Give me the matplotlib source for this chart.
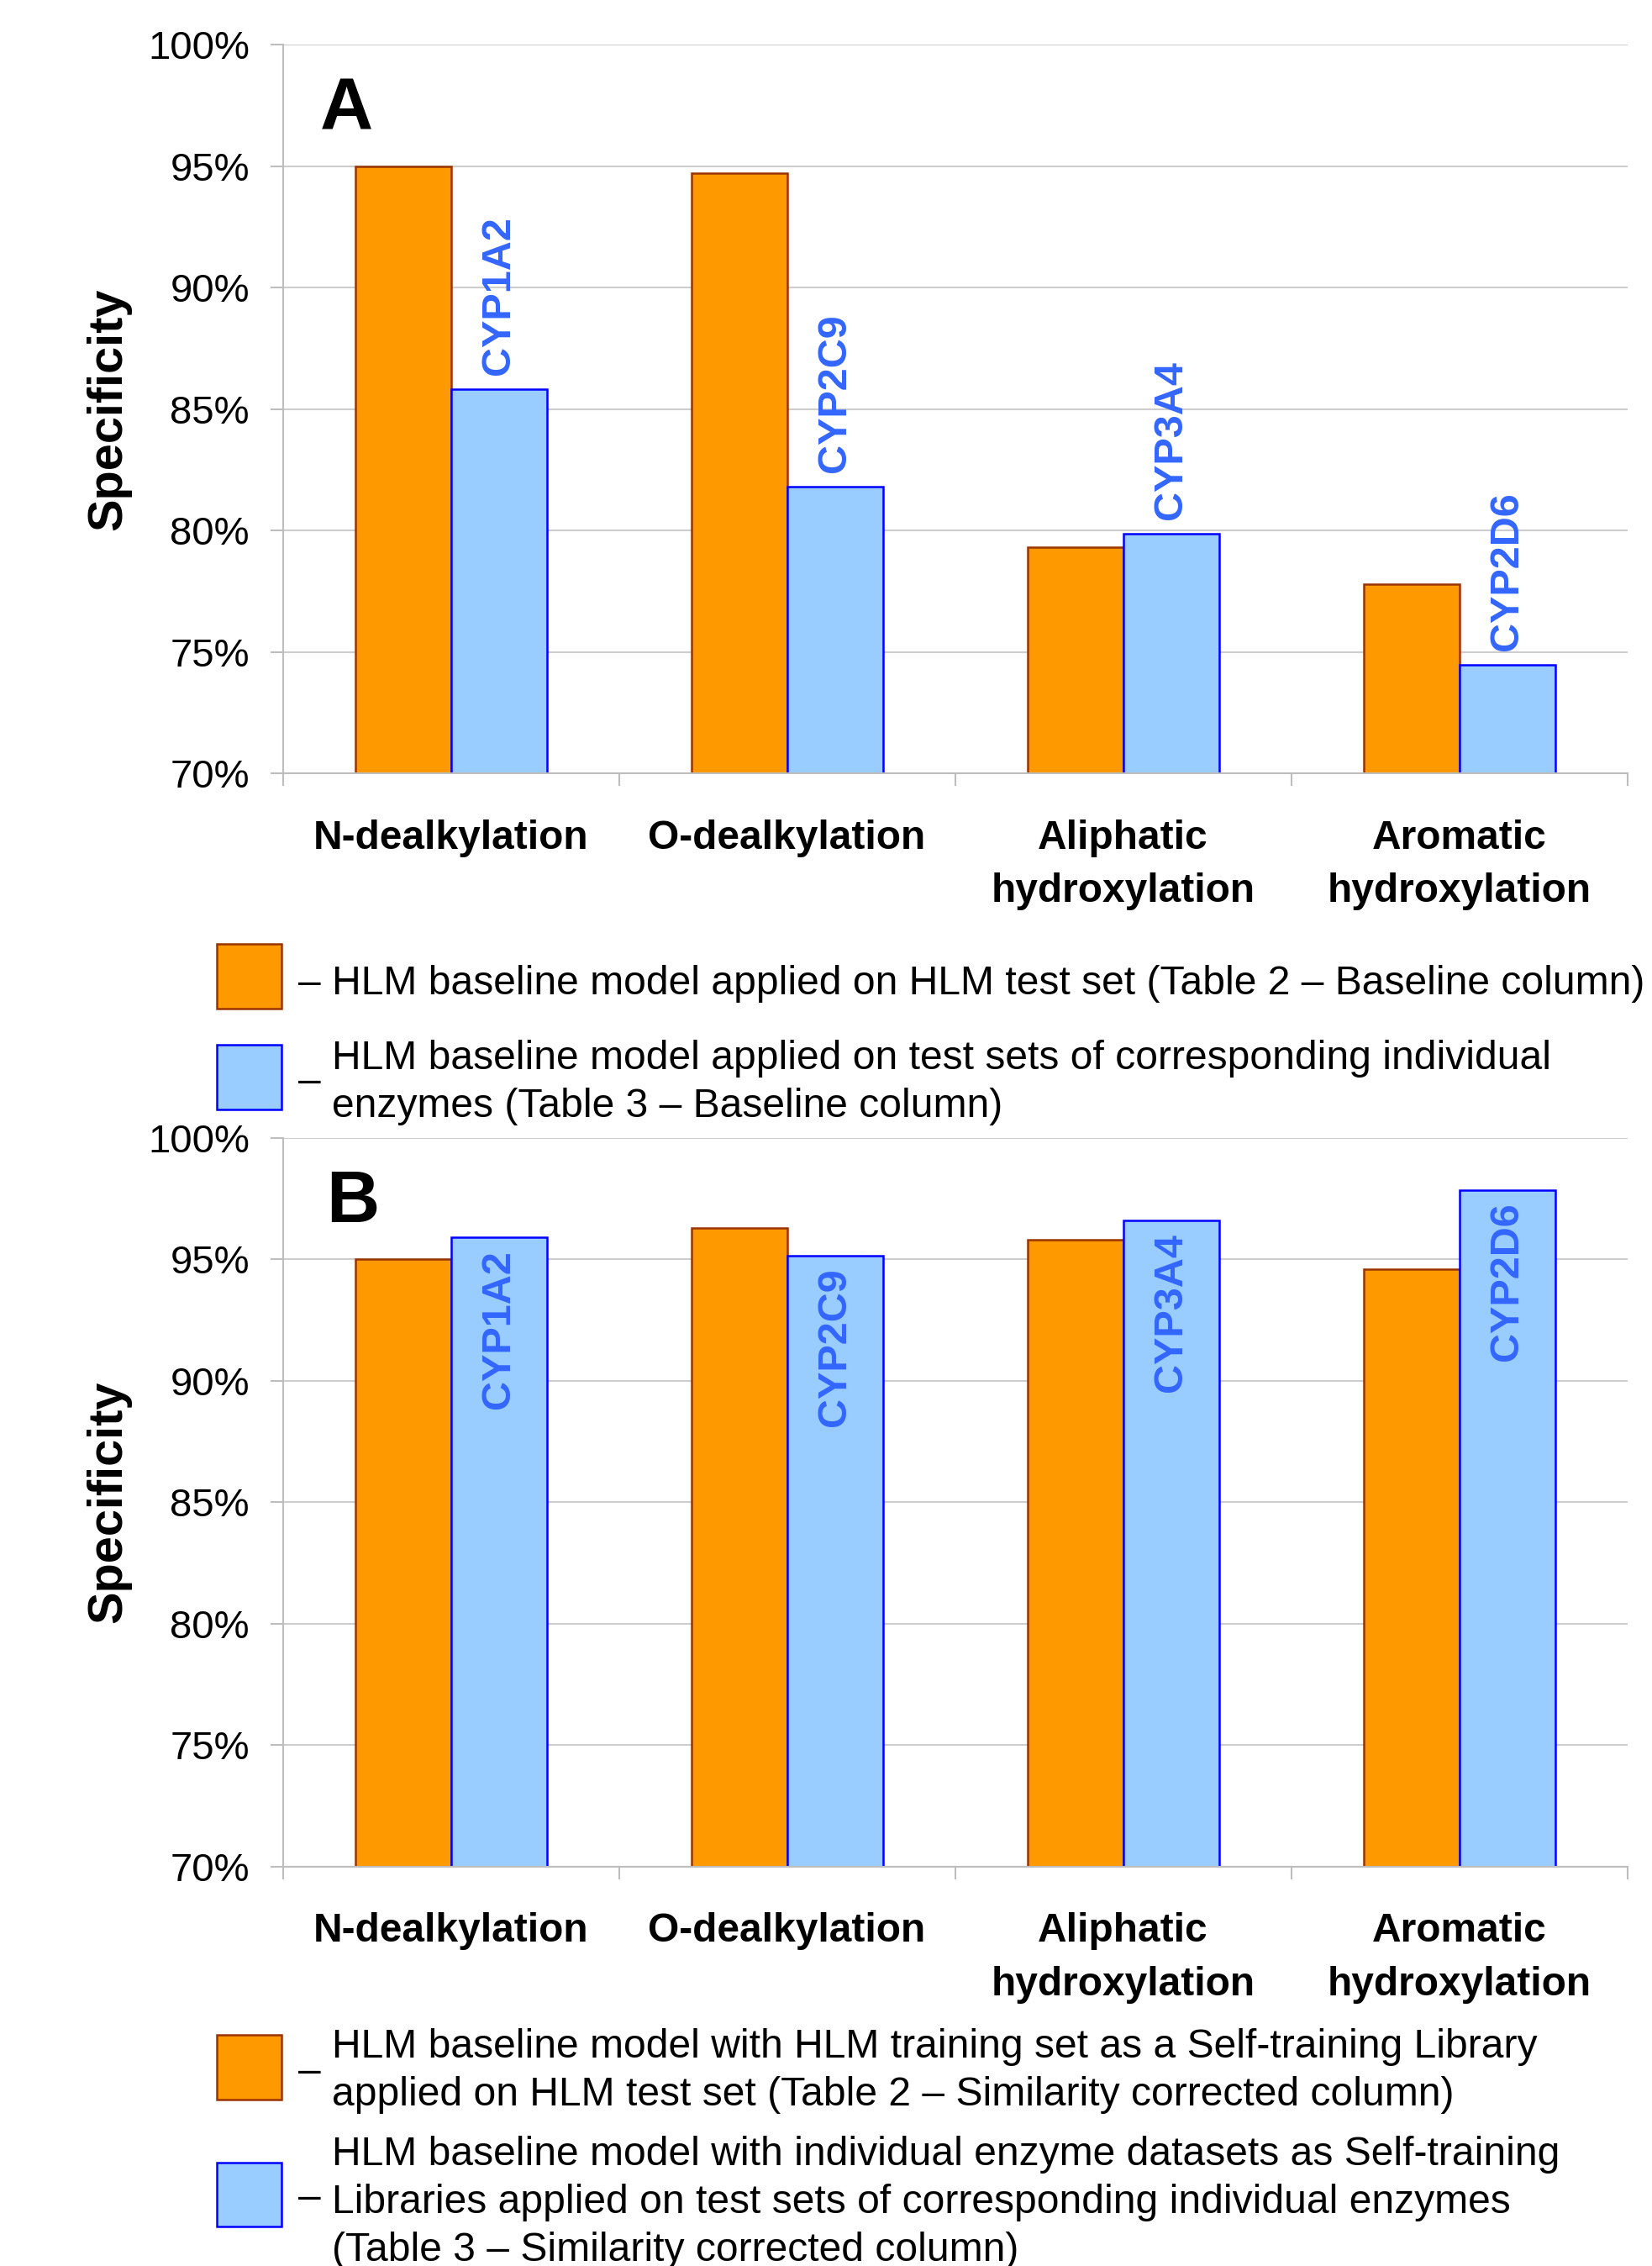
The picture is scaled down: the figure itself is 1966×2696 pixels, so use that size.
import matplotlib
matplotlib.use('Agg')
import matplotlib.pyplot as plt
from matplotlib.patches import Rectangle
import numpy as np

plt.rcParams['font.family'] = ['Liberation Sans', 'DejaVu Sans']

# ---------------- data ----------------
categories = ["N-dealkylation", "O-dealkylation", "Aliphatic\nhydroxylation", "Aromatic\nhydroxylation"]
enzymes = ["CYP1A2", "CYP2C9", "CYP3A4", "CYP2D6"]
a_hlm = [95.0, 94.7, 79.3, 77.8]
a_enz = [85.8, 81.8, 79.85, 74.45]
b_hlm = [95.0, 96.3, 95.8, 94.6]
b_enz = [95.9, 95.15, 96.6, 97.85]
yticks = [70, 75, 80, 85, 90, 95, 100]
ytick_labels = [f"{v}%" for v in yticks]
panel_letters = ["A", "B"]
ylabel = "Specificity"
legend_a_orange = ["\u2013 HLM baseline model applied on HLM test set (Table 2 \u2013 Baseline column)"]
legend_a_blue = ["HLM baseline model applied on test sets of corresponding individual",
                 "enzymes (Table 3 \u2013 Baseline column)"]
legend_b_orange = ["HLM baseline model with HLM training set as a Self-training Library",
                   "applied on HLM test set (Table 2 \u2013 Similarity corrected column)"]
legend_b_blue = ["HLM baseline model with individual enzyme datasets as Self-training",
                 "Libraries applied on test sets of corresponding individual enzymes",
                 "(Table 3 \u2013 Similarity corrected column)"]

# ---------------- style ----------------
W, H, DPI = 1966, 2696, 100
ORANGE, ORANGE_E = '#FF9900', '#993300'
BLUE, BLUE_E = '#99CCFF', '#0000FF'
LBL_BLUE = '#3366FF'
GRID = '#CDCDCD'
AX_C = '#BDBDBD'

fig = plt.figure(figsize=(W / DPI, H / DPI), dpi=DPI)

def fx(px):
    return px / W

def fy(px):
    return 1 - px / H

AX_L, AX_R = 336.5, 1936.5
panels = [
    dict(top=53.2, bot=920, hlm=a_hlm, enz=a_enz, above=True, letter_xy=(381, 154)),
    dict(top=1354, bot=2220.5, hlm=b_hlm, enz=b_enz, above=False, letter_xy=(388, 1454)),
]

x = np.arange(len(categories))
w = 0.285

for p_i, p in enumerate(panels):
    ax = fig.add_axes([fx(AX_L), fy(p['bot']), (AX_R - AX_L) / W, (p['bot'] - p['top']) / H])
    ax.set_xlim(-0.5, len(categories) - 0.5)
    ax.set_ylim(70, 100)
    ax.set_axisbelow(True)
    ax.yaxis.grid(True, color=GRID, lw=1.5)
    for s in ['top', 'right']:
        ax.spines[s].set_visible(False)
    for s in ['left', 'bottom']:
        ax.spines[s].set_color(AX_C)
        ax.spines[s].set_linewidth(1.5)
    ax.set_yticks(yticks)
    ax.set_yticklabels(ytick_labels)
    ax.tick_params(axis='y', direction='out', length=10.5, width=1.5, color=AX_C,
                   labelsize=34, pad=18)
    ax.set_xticks(np.arange(-0.5, len(categories)), minor=True)
    ax.set_xticks([])
    ax.tick_params(axis='x', which='minor', direction='out', length=11, width=1.5, color=AX_C)

    ax.bar(x - w / 2, p['hlm'], width=w, color=ORANGE, edgecolor=ORANGE_E, linewidth=1.8)
    bars = ax.bar(x + w / 2, p['enz'], width=w, color=BLUE, edgecolor=BLUE_E, linewidth=1.8)

    for i, (b, name) in enumerate(zip(bars, enzymes)):
        xc = b.get_x() + b.get_width() / 2
        if p['above']:
            ax.annotate(name, xy=(xc, b.get_height()), xytext=(0, 12.5), textcoords='offset points',
                        rotation=90, ha='center', va='bottom', color=LBL_BLUE,
                        fontsize=35, fontweight='bold')
        else:
            ax.annotate(name, xy=(xc, b.get_height()), xytext=(0, -10.5), textcoords='offset points',
                        rotation=90, ha='center', va='top', color=LBL_BLUE,
                        fontsize=35, fontweight='bold')

    # category labels
    for i, cat in enumerate(categories):
        for k, line in enumerate(cat.split('\n')):
            base_px = p['bot'] + 90 + 63 * k
            fig.text(fx(AX_L + (i + 0.5) * (AX_R - AX_L) / len(categories)), fy(base_px), line,
                     ha='center', va='baseline', fontsize=34.5, fontweight='bold')

    # panel letter
    lx, ly = p['letter_xy']
    fig.text(fx(lx), fy(ly), panel_letters[p_i], ha='left', va='baseline',
             fontsize=63, fontweight='bold')

    # y label
    fig.text(fx(129), fy((p['top'] + p['bot']) / 2), ylabel, rotation=90, ha='center', va='center',
             fontsize=41.5, fontweight='bold')

# ---------------- legends ----------------
def swatch(y0, y1, fc, ec):
    fig.add_artist(Rectangle((fx(258), fy(y1)), (335 - 258) / W, (y1 - y0) / H,
                             transform=fig.transFigure, facecolor=fc, edgecolor=ec, linewidth=1.8))

LEG_FS = 34.6
def dash(y_center):
    fig.text(fx(355), fy(y_center + 12), "\u2013", ha='left', va='baseline', fontsize=LEG_FS)

def lines(x_px, baselines, texts):
    for bl, t in zip(baselines, texts):
        fig.text(fx(x_px), fy(bl), t, ha='left', va='baseline', fontsize=LEG_FS)

# legend A
swatch(1123, 1200, ORANGE, ORANGE_E)
lines(355, [1183], legend_a_orange)
swatch(1243, 1320, BLUE, BLUE_E)
dash(1288)
lines(395, [1272, 1329], legend_a_blue)

# legend B
swatch(2421, 2498, ORANGE, ORANGE_E)
dash(2466)
lines(395, [2448, 2505], legend_b_orange)
swatch(2573, 2649, BLUE, BLUE_E)
dash(2616)
lines(395, [2576, 2633, 2690], legend_b_blue)

fig.savefig('out.png', dpi=DPI)
